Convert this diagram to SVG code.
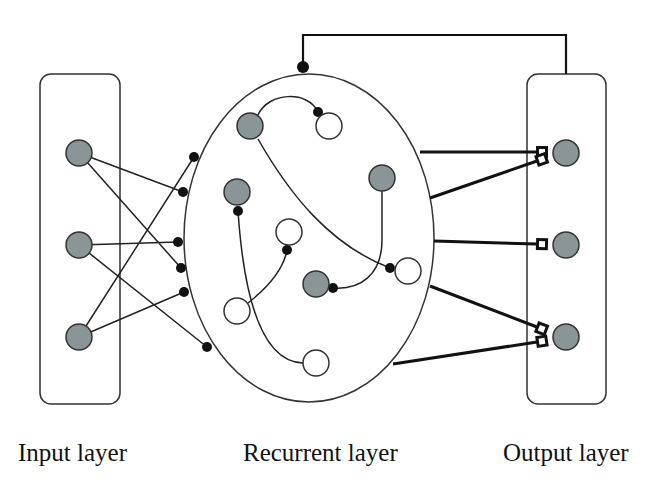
<svg xmlns="http://www.w3.org/2000/svg" width="650" height="500" viewBox="0 0 650 500">
<defs>
<style>
.box{fill:none;stroke:#333;stroke-width:1.5}
.gray{fill:#8a9598;stroke:#333;stroke-width:1.5}
.white{fill:#fff;stroke:#333;stroke-width:1.5}
.thin{fill:none;stroke:#222;stroke-width:1.5}
.thick{fill:none;stroke:#111;stroke-width:3;marker-end:url(#sq)}
.dot{fill:#111}
.lbl{font-family:"Liberation Serif","Times New Roman",serif;font-size:25px;fill:#111}
</style>
<marker id="sq" markerUnits="userSpaceOnUse" viewBox="0 0 16 16" markerWidth="16" markerHeight="16" refX="3" refY="8" orient="auto">
<rect x="3.5" y="3.5" width="9" height="9" fill="#fff" stroke="#111" stroke-width="3"/>
</marker>
</defs>
<rect width="650" height="500" fill="#fff"/>

<g id="input-layer">
<rect class="box" x="40" y="74" width="80" height="330" rx="11"/>
</g>
<g id="recurrent-layer">
<ellipse class="box" cx="309" cy="238" rx="125" ry="164"/>
</g>
<g id="output-layer">
<rect class="box" x="527" y="74" width="79" height="330" rx="11"/>
</g>

<g id="connectors">
<path class="thin" d="M79,153 L183,192 M79,153 L181,268 M79,245 L178,242 M79,245 L207,347 M79,337 L194,157 M79,337 L184,292"/>
<path class="thin" d="M258,115 C268,92 308,90 318,112"/>
<path class="thin" d="M258,139 C290,195 330,245 390,268"/>
<path class="thin" d="M382,191 L382,240 C382,275 360,290 333,288"/>
<path class="thin" d="M238,211 C244,300 262,362 303,363"/>
<path class="thin" d="M248,303 C262,292 283,272 287,250"/>
<path d="M303,67 L303,35 L566,35 L566,74" fill="none" stroke="#111" stroke-width="2.2"/>
<path class="thick" d="M420,152 L537,152"/>
<path class="thick" d="M430,198 L537,161"/>
<path class="thick" d="M434,241 L537,244"/>
<path class="thick" d="M430,286 L537,327"/>
<path class="thick" d="M393,364 L537,342"/>
<circle class="dot" cx="303" cy="67" r="6"/>
<circle class="dot" cx="194" cy="157" r="5"/>
<circle class="dot" cx="183" cy="192" r="5"/>
<circle class="dot" cx="178" cy="242" r="5"/>
<circle class="dot" cx="181" cy="268" r="5"/>
<circle class="dot" cx="184" cy="292" r="5"/>
<circle class="dot" cx="207" cy="347" r="5"/>
<circle class="dot" cx="318" cy="112" r="5"/>
<circle class="dot" cx="238" cy="211" r="5"/>
<circle class="dot" cx="287" cy="250" r="5"/>
<circle class="dot" cx="333" cy="288" r="5"/>
<circle class="dot" cx="390" cy="268" r="5"/>
</g>

<g id="in1"><circle class="gray" cx="79" cy="153" r="13"/></g>
<g id="in2"><circle class="gray" cx="79" cy="245" r="13"/></g>
<g id="in3"><circle class="gray" cx="79" cy="337" r="13"/></g>

<g id="rA"><circle class="gray" cx="250" cy="126" r="13"/></g>
<g id="rB"><circle class="white" cx="329" cy="126" r="13"/></g>
<g id="rC"><circle class="gray" cx="382" cy="178" r="13"/></g>
<g id="rD"><circle class="gray" cx="237" cy="192" r="13"/></g>
<g id="rF"><circle class="white" cx="289" cy="232" r="13"/></g>
<g id="rG"><circle class="gray" cx="316" cy="284" r="13"/></g>
<g id="rH"><circle class="white" cx="408" cy="271" r="13"/></g>
<g id="rI"><circle class="white" cx="237" cy="311" r="13"/></g>
<g id="rJ"><circle class="white" cx="316" cy="363" r="13"/></g>

<g id="out1"><circle class="gray" cx="566" cy="153" r="13"/></g>
<g id="out2"><circle class="gray" cx="566" cy="245" r="13"/></g>
<g id="out3"><circle class="gray" cx="566" cy="337" r="13"/></g>

<g id="labels">
<text class="lbl" x="18" y="461">Input layer</text>
<text class="lbl" x="243" y="461">Recurrent layer</text>
<text class="lbl" x="503" y="461">Output layer</text>
</g>
</svg>
